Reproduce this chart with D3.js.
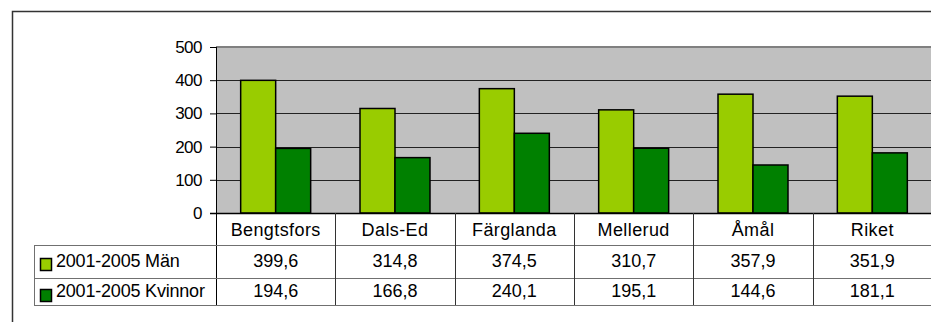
<!DOCTYPE html>
<html>
<head>
<meta charset="utf-8">
<script src="https://cdn.jsdelivr.net/npm/d3@7"></script>
<style>
  html, body { margin: 0; padding: 0; background: #fff; }
  svg { display: block; font-family: Arial, "Liberation Sans", sans-serif; }
</style>
</head>
<body>
<svg id="chart" width="931" height="322"></svg>
<script>
// Kommuner i Dalsland samt riket
const categories = ["Bengtsfors", "Dals-Ed", "Färglanda", "Mellerud", "Åmål", "Riket"];
const seriesNames = ["2001-2005 Män", "2001-2005 Kvinnor"];
const men   = [399.6, 314.8, 374.5, 310.7, 357.9, 351.9];
const women = [194.6, 166.8, 240.1, 195.1, 144.6, 181.1];
const yTicks = [0, 100, 200, 300, 400, 500];
const colors = ["#99CC00", "#008000"];

const series = [men, women];
const svSE = d3.formatLocale({ decimal: ",", thousands: " ", grouping: [3], currency: ["", " kr"] });
const fmt = svSE.format(".1f");

const svg = d3.select("#chart");
const fontSize = 18;

// outer chart frame
svg.append("rect")
  .attr("x", 12.5).attr("y", 11.5)
  .attr("width", 940).attr("height", 330)
  .attr("fill", "#fff").attr("stroke", "#333").attr("stroke-width", 1.5);

const plotLeft = 216, plotRight = 932, plotTop = 47, plotBottom = 213;
const tableLeft = 34;
const rowLines = [213, 245, 278, 305];

const x0 = d3.scaleBand().domain(categories).range([plotLeft, plotRight]).padding(0);
const x1 = d3.scaleBand().domain([0, 1]).range([0, x0.bandwidth()]).paddingInner(0).paddingOuter(0.705);
const y = d3.scaleLinear().domain([0, 500]).range([plotBottom, plotTop]);

// plot background
svg.append("rect")
  .attr("x", plotLeft).attr("y", plotTop)
  .attr("width", plotRight - plotLeft).attr("height", plotBottom - plotTop)
  .attr("fill", "#C0C0C0");
svg.append("line")
  .attr("x1", plotLeft).attr("x2", plotRight)
  .attr("y1", plotTop).attr("y2", plotTop)
  .attr("stroke", "#808080").attr("stroke-width", 2);

// gridlines
svg.append("g")
  .selectAll("line")
  .data(yTicks.filter(d => d > 0 && d < 500))
  .join("line")
  .attr("x1", plotLeft).attr("x2", plotRight)
  .attr("y1", d => Math.round(y(d)) + 0.5).attr("y2", d => Math.round(y(d)) + 0.5)
  .attr("stroke", "#222").attr("stroke-width", 1);

// bars
const groups = svg.append("g").selectAll("g")
  .data(categories)
  .join("g")
  .attr("transform", d => `translate(${x0(d)},0)`);

groups.selectAll("rect")
  .data((d, i) => series.map((s, k) => ({ k, v: s[i] })))
  .join("rect")
  .attr("x", d => x1(d.k))
  .attr("y", d => y(d.v))
  .attr("width", x1.bandwidth())
  .attr("height", d => plotBottom - y(d.v))
  .attr("fill", d => colors[d.k])
  .attr("stroke", "#000").attr("stroke-width", 1.5);

// y axis
const yAxis = d3.axisLeft(y).tickValues(yTicks).tickSize(6).tickPadding(8).tickFormat(d3.format("d"));
const ax = svg.append("g").attr("transform", `translate(${plotLeft},0)`).call(yAxis);
ax.select(".domain").remove();
ax.selectAll(".tick line").attr("stroke", "#000");
ax.selectAll(".tick text")
  .attr("font-size", 17).attr("fill", "#000").attr("letter-spacing", -0.5)
  .attr("font-family", "Arial, 'Liberation Sans', sans-serif");
svg.append("line")
  .attr("x1", plotLeft + 0.5).attr("x2", plotLeft + 0.5)
  .attr("y1", plotTop).attr("y2", rowLines[3])
  .attr("stroke", "#000").attr("stroke-width", 1);
svg.append("line")
  .attr("x1", plotLeft - 6).attr("x2", plotRight)
  .attr("y1", plotBottom + 0.5).attr("y2", plotBottom + 0.5)
  .attr("stroke", "#000").attr("stroke-width", 1.5);

// data table
const table = svg.append("g");
table.selectAll("line.row")
  .data(rowLines.slice(1))
  .join("line")
  .attr("class", "row")
  .attr("x1", tableLeft).attr("x2", plotRight)
  .attr("y1", d => d + 0.5).attr("y2", d => d + 0.5)
  .attr("stroke", "#707070").attr("stroke-width", 1);
table.append("line")
  .attr("x1", tableLeft + 0.5).attr("x2", tableLeft + 0.5)
  .attr("y1", rowLines[1]).attr("y2", rowLines[3])
  .attr("stroke", "#707070");
table.selectAll("line.col")
  .data(categories.slice(1))
  .join("line")
  .attr("class", "col")
  .attr("x1", d => Math.round(x0(d)) + 0.5).attr("x2", d => Math.round(x0(d)) + 0.5)
  .attr("y1", plotBottom).attr("y2", rowLines[3])
  .attr("stroke", "#333");

// category labels
table.selectAll("text.cat")
  .data(categories)
  .join("text")
  .attr("class", "cat")
  .attr("x", d => x0(d) + x0.bandwidth() / 2)
  .attr("y", 235.5)
  .attr("text-anchor", "middle")
  .attr("font-size", fontSize)
  .attr("letter-spacing", 0.4)
  .text(d => d);

// value rows
const rowBase = [267, 297];
const keyTop = [258, 289];
series.forEach((s, k) => {
  table.append("rect")
    .attr("x", 40.5).attr("y", keyTop[k] + 0.5)
    .attr("width", 11).attr("height", 12)
    .attr("fill", colors[k]).attr("stroke", "#000").attr("stroke-width", 1.5);
  table.append("text")
    .attr("x", 56).attr("y", rowBase[k])
    .attr("font-size", fontSize)
    .attr("letter-spacing", -0.2)
    .text(seriesNames[k]);
  table.selectAll(null)
    .data(categories)
    .join("text")
    .attr("x", (d) => x0(d) + x0.bandwidth() / 2)
    .attr("y", rowBase[k])
    .attr("text-anchor", "middle")
    .attr("font-size", fontSize)
    .text((d, i) => fmt(s[i]));
});
</script>
</body>
</html>
